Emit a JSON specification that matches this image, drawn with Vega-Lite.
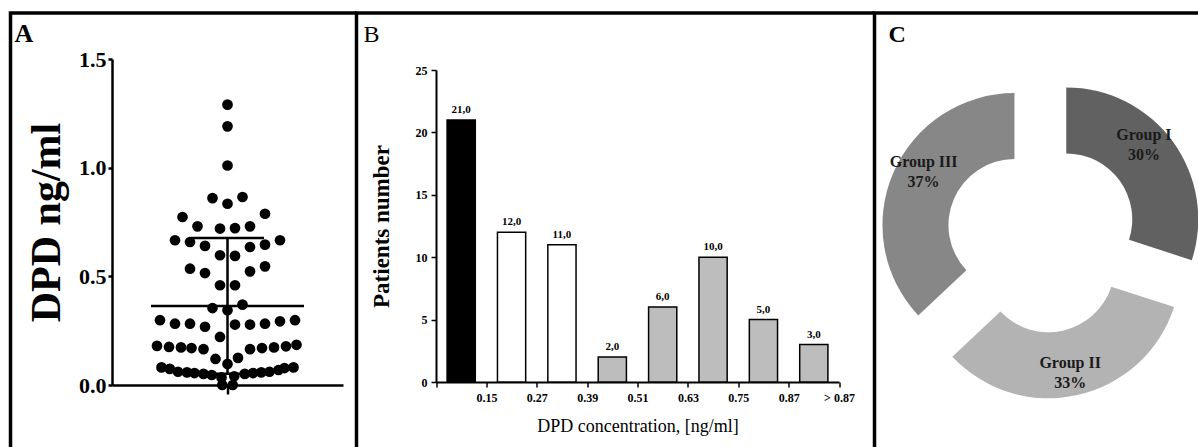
{
  "$schema": "https://vega.github.io/schema/vega-lite/v6.json",
  "background": "white",
  "padding": {"left": 8.5, "top": 11, "right": 0, "bottom": 0},
  "spacing": 0,
  "bounds": "flush",
  "config": {
    "font": "Liberation Serif",
    "locale": {"number": {"decimal": ",", "thousands": ".", "grouping": [3], "currency": ["", ""]}},
    "axis": {"grid": false, "domainColor": "black", "tickColor": "black", "labelColor": "black", "titleColor": "black", "labelFont": "Liberation Serif", "titleFont": "Liberation Serif"},
    "title": {"color": "black", "font": "Liberation Serif"}
  },
  "resolve": {"scale": {"color": "independent"}},
  "datasets": {
    "dots": [
      {"slot": 0, "dpd": 1.29}, {"slot": 0, "dpd": 1.19}, {"slot": 0, "dpd": 1.01},
      {"slot": -1, "dpd": 0.86}, {"slot": 1, "dpd": 0.865}, {"slot": 0, "dpd": 0.834}, {"slot": -3, "dpd": 0.773}, {"slot": 2.5, "dpd": 0.788},
      {"slot": -2, "dpd": 0.73}, {"slot": -0.5, "dpd": 0.72}, {"slot": 0.5, "dpd": 0.722}, {"slot": 1.5, "dpd": 0.73}, {"slot": -3.5, "dpd": 0.666},
      {"slot": -2.5, "dpd": 0.658}, {"slot": -1.5, "dpd": 0.64}, {"slot": 2.5, "dpd": 0.646}, {"slot": 3.5, "dpd": 0.666}, {"slot": 1.5, "dpd": 0.635},
      {"slot": -0.5, "dpd": 0.597}, {"slot": 0.5, "dpd": 0.594}, {"slot": -2.5, "dpd": 0.535}, {"slot": -1.5, "dpd": 0.515}, {"slot": 1.5, "dpd": 0.523}, {"slot": 2.5, "dpd": 0.546},
      {"slot": -0.5, "dpd": 0.459}, {"slot": 0.5, "dpd": 0.459},
      {"slot": -1, "dpd": 0.354}, {"slot": 0, "dpd": 0.344}, {"slot": 1, "dpd": 0.37},
      {"slot": -4.5, "dpd": 0.298}, {"slot": -3.5, "dpd": 0.282}, {"slot": -2.5, "dpd": 0.282}, {"slot": 0.5, "dpd": 0.278}, {"slot": 1.5, "dpd": 0.278},
      {"slot": 2.5, "dpd": 0.282}, {"slot": 3.5, "dpd": 0.293}, {"slot": 4.5, "dpd": 0.298},
      {"slot": -1.5, "dpd": 0.268}, {"slot": -0.5, "dpd": 0.221},
      {"slot": -4.7, "dpd": 0.18}, {"slot": -3.9, "dpd": 0.175}, {"slot": -3.1, "dpd": 0.173}, {"slot": -2.4, "dpd": 0.17}, {"slot": -1.6, "dpd": 0.165},
      {"slot": 1.5, "dpd": 0.165}, {"slot": 2.3, "dpd": 0.17}, {"slot": 3.1, "dpd": 0.173}, {"slot": 3.9, "dpd": 0.178}, {"slot": 4.6, "dpd": 0.185},
      {"slot": -0.8, "dpd": 0.12}, {"slot": 0.7, "dpd": 0.125}, {"slot": 0, "dpd": 0.097},
      {"slot": -4.4, "dpd": 0.081}, {"slot": -3.85, "dpd": 0.074}, {"slot": -3.3, "dpd": 0.061}, {"slot": -2.7, "dpd": 0.058}, {"slot": -2.2, "dpd": 0.055},
      {"slot": -1.6, "dpd": 0.051}, {"slot": -1.05, "dpd": 0.046}, {"slot": 1.15, "dpd": 0.051}, {"slot": 1.7, "dpd": 0.055}, {"slot": 2.25, "dpd": 0.058},
      {"slot": 2.8, "dpd": 0.061}, {"slot": 3.4, "dpd": 0.069}, {"slot": 3.8, "dpd": 0.078}, {"slot": 4.4, "dpd": 0.081},
      {"slot": -0.4, "dpd": 0.035}, {"slot": 0.45, "dpd": 0.04},
      {"slot": -0.35, "dpd": 0.0}, {"slot": 0.35, "dpd": 0.0}
    ],
    "summary": [{"mean": 0.364, "lo": 0.052, "hi": 0.676}],
    "bins": [
      {"bin": "0.15", "n": 21, "grp": "Group I"},
      {"bin": "0.27", "n": 12, "grp": "Group II"},
      {"bin": "0.39", "n": 11, "grp": "Group II"},
      {"bin": "0.51", "n": 2, "grp": "Group III"},
      {"bin": "0.63", "n": 6, "grp": "Group III"},
      {"bin": "0.75", "n": 10, "grp": "Group III"},
      {"bin": "0.87", "n": 5, "grp": "Group III"},
      {"bin": "> 0.87", "n": 3, "grp": "Group III"}
    ],
    "groups": [
      {"group": "Group I", "share": 0.30},
      {"group": "Group II", "share": 0.33},
      {"group": "Group III", "share": 0.37}
    ]
  },
  "hconcat": [
    {
      "width": 346,
      "height": 436,
      "view": {"stroke": "black", "strokeWidth": 3.5, "strokeDash": [346, 782, 436]},
      "title": {"text": "A", "anchor": "start", "frame": "group", "offset": -34, "dx": 4, "fontSize": 26, "fontWeight": "bold"},
      "layer": [
        {
          "data": {"name": "dots"},
          "mark": {"type": "point", "filled": true, "color": "black", "size": 115, "opacity": 1},
          "encoding": {
            "x": {"field": "slot", "type": "quantitative", "title": null,
              "scale": {"domain": [-7.7, 7.7], "range": [101.5, 332.5], "nice": false, "zero": false},
              "axis": {"orient": "bottom", "offset": -64, "values": [0], "labels": false, "title": null, "tickSize": 9, "tickWidth": 2.5, "domainWidth": 2.5}},
            "y": {"field": "dpd", "type": "quantitative", "title": "DPD ng/ml",
              "scale": {"domain": [0, 1.5], "range": [372, 46], "nice": false, "zero": false},
              "axis": {"orient": "left", "offset": -101.5, "values": [0, 0.5, 1, 1.5], "labelExpr": "replace(format(datum.value, '.1f'), ',', '.')", "tickSize": 4, "tickWidth": 2.5, "domainWidth": 2.5, "labelFontSize": 22, "labelFontWeight": "bold", "labelPadding": 2, "title": "DPD ng/ml", "titleFontSize": 42, "titleFontWeight": "bold", "titlePadding": 10}}
          }
        },
        {
          "data": {"name": "summary"},
          "mark": {"type": "rule", "strokeWidth": 2.5, "color": "black"},
          "encoding": {
            "x": {"datum": 0, "type": "quantitative", "title": null,
              "scale": {"domain": [-7.7, 7.7], "range": [101.5, 332.5], "nice": false, "zero": false},
              "axis": {"orient": "bottom", "offset": -64, "values": [0], "labels": false, "title": null, "tickSize": 9, "tickWidth": 2.5, "domainWidth": 2.5}},
            "y": {"field": "lo", "type": "quantitative", "title": "DPD ng/ml",
              "scale": {"domain": [0, 1.5], "range": [372, 46], "nice": false, "zero": false},
              "axis": {"orient": "left", "offset": -101.5, "values": [0, 0.5, 1, 1.5], "labelExpr": "replace(format(datum.value, '.1f'), ',', '.')", "tickSize": 4, "tickWidth": 2.5, "domainWidth": 2.5, "labelFontSize": 22, "labelFontWeight": "bold", "labelPadding": 2, "title": "DPD ng/ml", "titleFontSize": 42, "titleFontWeight": "bold", "titlePadding": 10}},
            "y2": {"field": "hi"}
          }
        },
        {
          "data": {"name": "summary"},
          "mark": {"type": "tick", "orient": "horizontal", "size": 153, "thickness": 2.5, "color": "black", "opacity": 1},
          "encoding": {
            "x": {"datum": 0, "type": "quantitative", "title": null,
              "scale": {"domain": [-7.7, 7.7], "range": [101.5, 332.5], "nice": false, "zero": false},
              "axis": {"orient": "bottom", "offset": -64, "values": [0], "labels": false, "title": null, "tickSize": 9, "tickWidth": 2.5, "domainWidth": 2.5}},
            "y": {"field": "mean", "type": "quantitative", "title": "DPD ng/ml",
              "scale": {"domain": [0, 1.5], "range": [372, 46], "nice": false, "zero": false},
              "axis": {"orient": "left", "offset": -101.5, "values": [0, 0.5, 1, 1.5], "labelExpr": "replace(format(datum.value, '.1f'), ',', '.')", "tickSize": 4, "tickWidth": 2.5, "domainWidth": 2.5, "labelFontSize": 22, "labelFontWeight": "bold", "labelPadding": 2, "title": "DPD ng/ml", "titleFontSize": 42, "titleFontWeight": "bold", "titlePadding": 10}}
          }
        },
        {
          "data": {"name": "summary"},
          "mark": {"type": "tick", "orient": "horizontal", "size": 73, "thickness": 2.5, "color": "black", "opacity": 1},
          "encoding": {
            "x": {"datum": 0, "type": "quantitative", "title": null,
              "scale": {"domain": [-7.7, 7.7], "range": [101.5, 332.5], "nice": false, "zero": false},
              "axis": {"orient": "bottom", "offset": -64, "values": [0], "labels": false, "title": null, "tickSize": 9, "tickWidth": 2.5, "domainWidth": 2.5}},
            "y": {"field": "hi", "type": "quantitative", "title": "DPD ng/ml",
              "scale": {"domain": [0, 1.5], "range": [372, 46], "nice": false, "zero": false},
              "axis": {"orient": "left", "offset": -101.5, "values": [0, 0.5, 1, 1.5], "labelExpr": "replace(format(datum.value, '.1f'), ',', '.')", "tickSize": 4, "tickWidth": 2.5, "domainWidth": 2.5, "labelFontSize": 22, "labelFontWeight": "bold", "labelPadding": 2, "title": "DPD ng/ml", "titleFontSize": 42, "titleFontWeight": "bold", "titlePadding": 10}}
          }
        },
        {
          "data": {"name": "summary"},
          "mark": {"type": "tick", "orient": "horizontal", "size": 73, "thickness": 2.5, "color": "black", "opacity": 1},
          "encoding": {
            "x": {"datum": 0, "type": "quantitative", "title": null,
              "scale": {"domain": [-7.7, 7.7], "range": [101.5, 332.5], "nice": false, "zero": false},
              "axis": {"orient": "bottom", "offset": -64, "values": [0], "labels": false, "title": null, "tickSize": 9, "tickWidth": 2.5, "domainWidth": 2.5}},
            "y": {"field": "lo", "type": "quantitative", "title": "DPD ng/ml",
              "scale": {"domain": [0, 1.5], "range": [372, 46], "nice": false, "zero": false},
              "axis": {"orient": "left", "offset": -101.5, "values": [0, 0.5, 1, 1.5], "labelExpr": "replace(format(datum.value, '.1f'), ',', '.')", "tickSize": 4, "tickWidth": 2.5, "domainWidth": 2.5, "labelFontSize": 22, "labelFontWeight": "bold", "labelPadding": 2, "title": "DPD ng/ml", "titleFontSize": 42, "titleFontWeight": "bold", "titlePadding": 10}}
          }
        }
      ]
    },
    {
      "width": 518,
      "height": 436,
      "view": {"stroke": "black", "strokeWidth": 3.5, "strokeDash": [518, 954, 436]},
      "title": {"text": "B", "anchor": "start", "frame": "group", "offset": -34, "dx": 7, "fontSize": 24, "fontWeight": "normal"},
      "data": {"name": "bins"},
      "encoding": {
        "x": {"field": "bin", "type": "nominal", "sort": null,
          "scale": {"range": [79.5, 482.5], "paddingInner": 0, "paddingOuter": 0},
          "axis": {"orient": "bottom", "offset": -67, "tickBand": "extent", "labelOffset": 25.2, "labelAngle": 0, "tickSize": 5, "tickWidth": 1.5, "domainWidth": 2, "labelFontSize": 12, "labelFontWeight": "bold", "labelPadding": 5, "title": "DPD concentration, [ng/ml]", "titleFontSize": 18, "titleFontWeight": "normal", "titlePadding": 14}},
        "y": {"field": "n", "type": "quantitative",
          "scale": {"domain": [0, 25], "range": [369, 57], "nice": false},
          "axis": {"offset": -79.5, "values": [0, 5, 10, 15, 20, 25], "tickSize": 5, "tickWidth": 1.5, "domainWidth": 2, "labelFontSize": 12, "labelFontWeight": "bold", "labelPadding": 4, "title": "Patients number", "titleFontSize": 23, "titleFontWeight": "bold", "titlePadding": 22}}
      },
      "layer": [
        {
          "mark": {"type": "bar", "width": {"band": 0.56}, "stroke": "black", "strokeWidth": 1.5},
          "encoding": {
            "color": {"field": "grp", "type": "nominal", "scale": {"domain": ["Group I", "Group II", "Group III"], "range": ["#000000", "#ffffff", "#bdbdbd"]}, "legend": null}
          }
        },
        {
          "mark": {"type": "text", "baseline": "bottom", "dy": -5, "fontSize": 11, "fontWeight": "bold", "color": "black"},
          "encoding": {
            "text": {"field": "n", "type": "quantitative", "format": ".1f"}
          }
        }
      ]
    },
    {
      "width": 325.5,
      "height": 436,
      "view": {"stroke": "black", "strokeWidth": 3.5, "strokeDash": [325.5, 761.5, 436]},
      "title": {"text": "C", "anchor": "start", "frame": "group", "offset": -34, "dx": 14, "fontSize": 24, "fontWeight": "bold"},
      "data": {"name": "groups"},
      "encoding": {
        "theta": {"field": "share", "type": "quantitative", "stack": true},
        "order": {"field": "group", "type": "ordinal", "sort": "ascending"}
      },
      "layer": [
        {
          "mark": {"type": "arc", "outerRadius": 132, "innerRadius": 66, "xOffset": 29, "yOffset": -11.6},
          "encoding": {
            "color": {"field": "group", "type": "nominal", "scale": {"domain": ["Group I", "Group II", "Group III"], "range": ["#616161", "#b3b3b3", "#878787"]}, "legend": null},
            "opacity": {"condition": {"test": "datum.group === 'Group I'", "value": 1}, "value": 0}
          }
        },
        {
          "mark": {"type": "arc", "outerRadius": 132, "innerRadius": 66, "xOffset": 11.3, "yOffset": 35.3},
          "encoding": {
            "color": {"field": "group", "type": "nominal", "scale": {"domain": ["Group I", "Group II", "Group III"], "range": ["#616161", "#b3b3b3", "#878787"]}, "legend": null},
            "opacity": {"condition": {"test": "datum.group === 'Group II'", "value": 1}, "value": 0}
          }
        },
        {
          "mark": {"type": "arc", "outerRadius": 132, "innerRadius": 66, "xOffset": -22.8, "yOffset": -5.9},
          "encoding": {
            "color": {"field": "group", "type": "nominal", "scale": {"domain": ["Group I", "Group II", "Group III"], "range": ["#616161", "#b3b3b3", "#878787"]}, "legend": null},
            "opacity": {"condition": {"test": "datum.group === 'Group III'", "value": 1}, "value": 0}
          }
        },
        {
          "mark": {"type": "text", "radius": 96, "dy": -28, "xOffset": 29, "yOffset": -11.6, "fontSize": 16, "fontWeight": "bold", "color": "#1a1a1a"},
          "encoding": {
            "detail": {"field": "group", "type": "nominal"},
            "text": {"field": "group", "type": "nominal"},
            "opacity": {"condition": {"test": "datum.group === 'Group I'", "value": 1}, "value": 0}
          }
        },
        {
          "mark": {"type": "text", "radius": 96, "dy": -8, "xOffset": 29, "yOffset": -11.6, "fontSize": 16, "fontWeight": "bold", "color": "#1a1a1a"},
          "encoding": {
            "detail": {"field": "group", "type": "nominal"},
            "text": {"field": "share", "type": "quantitative", "format": ".0%"},
            "opacity": {"condition": {"test": "datum.group === 'Group I'", "value": 1}, "value": 0}
          }
        },
        {
          "mark": {"type": "text", "radius": 99, "dy": 0, "xOffset": 11.3, "yOffset": 35.3, "fontSize": 16, "fontWeight": "bold", "color": "#1a1a1a"},
          "encoding": {
            "detail": {"field": "group", "type": "nominal"},
            "text": {"field": "group", "type": "nominal"},
            "opacity": {"condition": {"test": "datum.group === 'Group II'", "value": 1}, "value": 0}
          }
        },
        {
          "mark": {"type": "text", "radius": 99, "dy": 20, "xOffset": 11.3, "yOffset": 35.3, "fontSize": 16, "fontWeight": "bold", "color": "#1a1a1a"},
          "encoding": {
            "detail": {"field": "group", "type": "nominal"},
            "text": {"field": "share", "type": "quantitative", "format": ".0%"},
            "opacity": {"condition": {"test": "datum.group === 'Group II'", "value": 1}, "value": 0}
          }
        },
        {
          "mark": {"type": "text", "radius": 99, "dy": -24, "xOffset": -22.8, "yOffset": -5.9, "fontSize": 16, "fontWeight": "bold", "color": "#1a1a1a"},
          "encoding": {
            "detail": {"field": "group", "type": "nominal"},
            "text": {"field": "group", "type": "nominal"},
            "opacity": {"condition": {"test": "datum.group === 'Group III'", "value": 1}, "value": 0}
          }
        },
        {
          "mark": {"type": "text", "radius": 99, "dy": -4, "xOffset": -22.8, "yOffset": -5.9, "fontSize": 16, "fontWeight": "bold", "color": "#1a1a1a"},
          "encoding": {
            "detail": {"field": "group", "type": "nominal"},
            "text": {"field": "share", "type": "quantitative", "format": ".0%"},
            "opacity": {"condition": {"test": "datum.group === 'Group III'", "value": 1}, "value": 0}
          }
        }
      ]
    }
  ]
}
